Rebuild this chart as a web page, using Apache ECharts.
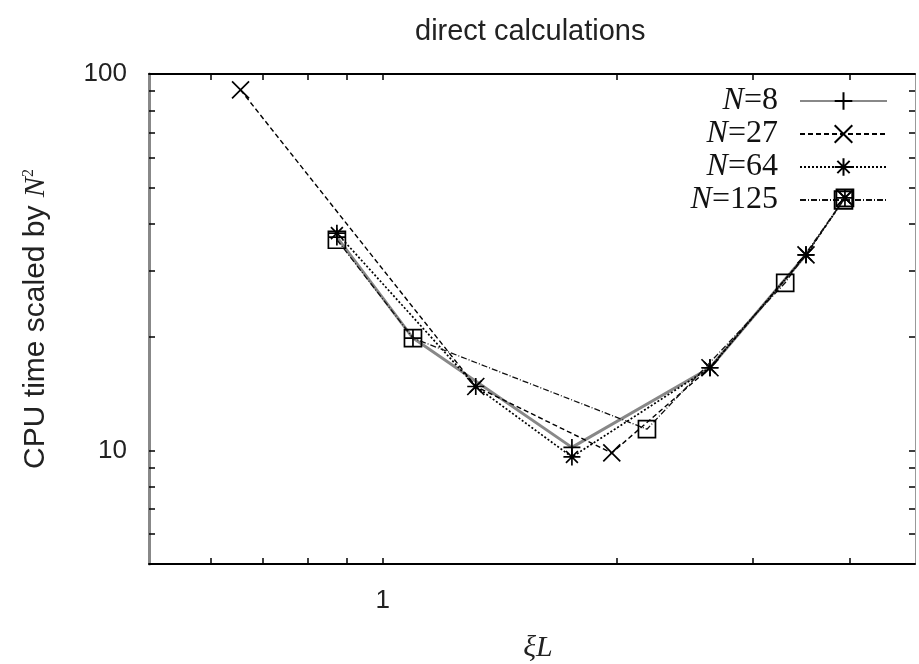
<!DOCTYPE html>
<html><head><meta charset="utf-8">
<script src="https://cdn.jsdelivr.net/npm/echarts@6/dist/echarts.min.js"></script>
<style>html,body{margin:0;padding:0;background:#fff}#c{width:919px;height:664px}</style>
</head><body><div id="c"></div>
<script>
// ---- data ----
const seriesNames = ['N=8', 'N=27', 'N=64', 'N=125'];
const xi8   = [0.873, 1.094, 1.753, 2.64, 3.51];
const t8    = [36.9, 19.9, 10.2, 16.6, 33.1];
const xi27  = [0.656, 1.318, 1.973, 2.64, 3.51, 3.94];
const t27   = [90.7, 14.8, 9.86, 16.6, 33.1, 46.9];
const xi64  = [0.873, 1.318, 1.753, 2.64, 3.51, 3.94];
const t64   = [37.8, 14.8, 9.62, 16.6, 33.1, 46.9];
const xi125 = [0.873, 1.094, 2.19, 3.30, 3.94];
const t125  = [36.3, 19.9, 11.4, 27.9, 46.9];
const xLabelValues = [1];
const yLabelValues = [10, 100];
const xTickValues = [0.6, 0.7, 0.8, 0.9, 1, 2, 3, 4];
const yTickValues = [6, 7, 8, 9, 10, 20, 30, 40, 50, 60, 70, 80, 90, 100];

const pairs = (xs, ys) => xs.map((x, i) => [x, ys[i]]);
const PLUS = 'path://M5,0L5,10M0,5L10,5';
const CROSS = 'path://M0,0L10,10M10,0L0,10';
const STAR = 'path://M5,0L5,10M0,5L10,5M1.5,1.5L8.5,8.5M8.5,1.5L1.5,8.5';

const chart = echarts.init(document.getElementById('c'), null, {renderer: 'canvas'});
const sans = 'Liberation Sans';
const serif = 'Liberation Serif';

function xAx(pos, labels) {
  return {
    type: 'log', logBase: 10, min: 0.5, max: 4.85, position: pos,
    axisLine: {show: true, lineStyle: {color: '#000', width: 2}},
    axisTick: {show: true, inside: true, length: 6, customValues: xTickValues, lineStyle: {color: '#000', width: 1.5}},
    axisLabel: labels ? {show: true, customValues: xLabelValues, margin: 24, fontSize: 26, color: '#222', fontFamily: sans} : {show: false},
    splitLine: {show: false}, minorTick: {show: false}
  };
}
function yAx(pos, labels, col, w) {
  return {
    type: 'log', logBase: 10, min: 5, max: 100, position: pos,
    axisLine: {show: true, lineStyle: {color: col, width: w}},
    axisTick: {show: true, inside: true, length: 6, customValues: yTickValues, lineStyle: {color: '#000', width: 1.5}},
    axisLabel: labels ? {show: true, customValues: yLabelValues, margin: 22, fontSize: 26, color: '#222', fontFamily: sans} : {show: false},
    splitLine: {show: false}, minorTick: {show: false}
  };
}

const xa0 = xAx('bottom', true);
xa0.name = 'ξL';
xa0.nameLocation = 'middle';
xa0.nameGap = 69;
xa0.nameTextStyle = {fontFamily: serif, fontStyle: 'italic', fontSize: 30, color: '#222', padding: [0, 0, 0, 12]};
const ya0 = yAx('left', true, '#888', 3);
ya0.name = 'CPU time scaled by {n|N}{s|2}';
ya0.nameLocation = 'middle';
ya0.nameGap = 98;
ya0.nameTextStyle = {fontFamily: sans, fontSize: 30, color: '#222',
  rich: {n: {fontFamily: serif, fontStyle: 'italic', fontSize: 30, color: '#222'},
         s: {fontFamily: serif, fontSize: 16, color: '#222', verticalAlign: 'top', padding: [0, 0, 14, 0]}}};

function mk(name, xs, ys, symbol, lineStyle, z) {
  return {
    name: name, type: 'line', xAxisIndex: 0, yAxisIndex: 0,
    data: pairs(xs, ys), symbol: symbol, symbolSize: 17, showSymbol: true,
    lineStyle: lineStyle,
    itemStyle: {color: 'rgba(0,0,0,0)', borderColor: '#000', borderWidth: 1.7},
    emphasis: {disabled: true}, animation: false, z: z
  };
}

const legendRich = {
  i: {fontFamily: serif, fontStyle: 'italic', fontSize: 32, lineHeight: 24, color: '#111'},
  t: {fontFamily: serif, fontSize: 32, lineHeight: 24, color: '#111'}
};

chart.setOption({
  backgroundColor: '#fff',
  animation: false,
  title: {text: 'direct calculations', left: 410, top: 12,
    textStyle: {fontFamily: sans, fontSize: 29, fontWeight: 'normal', color: '#222'}},
  grid: {left: 149, right: 4, top: 74, bottom: 100, containLabel: false, outerBoundsMode: 'none'},
  legend: {
    orient: 'vertical', right: 31, top: 85, align: 'right', padding: 0,
    itemWidth: 87, itemHeight: 22, itemGap: 1,
    data: seriesNames,
    formatter: n => '{i|N}{t|' + n.slice(1) + '}',
    textStyle: {fontFamily: serif, fontSize: 32, lineHeight: 24, color: '#111', padding: [0, 17, 0, 0], rich: legendRich},
    selectedMode: false
  },
  xAxis: [xa0, xAx('top', false)],
  yAxis: [ya0, yAx('right', false, '#999', 1)],
  series: [
    mk('N=8', xi8, t8, PLUS, {color: '#888', width: 3, type: 'solid'}, 2),
    mk('N=27', xi27, t27, CROSS, {color: '#000', width: 1.4, type: [5, 3]}, 3),
    mk('N=64', xi64, t64, STAR, {color: '#000', width: 1.7, type: [2, 2]}, 4),
    mk('N=125', xi125, t125, 'rect', {color: '#111', width: 1.3, type: [6, 2, 1, 2]}, 5)
  ]
});
</script>
</body></html>
